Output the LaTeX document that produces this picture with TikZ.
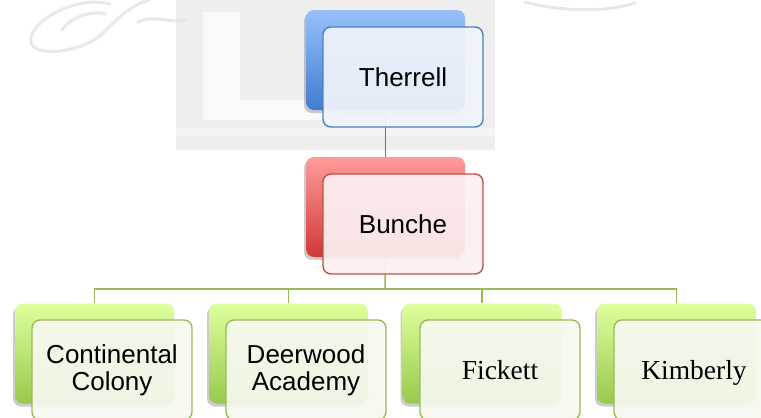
\documentclass[tikz,border=0pt]{standalone}
\usepackage{fontspec}
\setmainfont{Liberation Sans}
\newfontfamily\serifface{Liberation Serif}
\usetikzlibrary{shadows}
\definecolor{bluebd}{HTML}{4F81BD}
\definecolor{bluetop}{HTML}{98C0FA}
\definecolor{bluebot}{HTML}{3F7CD2}
\definecolor{bluetint}{HTML}{F0F4FB}
\definecolor{redbd}{HTML}{C0504D}
\definecolor{redtop}{HTML}{FF9C9A}
\definecolor{redbot}{HTML}{D03838}
\definecolor{redtint}{HTML}{FCF1F1}
\definecolor{greenbd}{HTML}{9BBB59}
\definecolor{greentop}{HTML}{DEFF9E}
\definecolor{greenbot}{HTML}{98C94C}
\definecolor{greentint}{HTML}{F6F9EF}
\tikzset{
  backbox/.style={minimum width=159pt, minimum height=100pt, rounded corners=8pt, inner sep=0pt,
    drop shadow={shadow xshift=-2pt, shadow yshift=-3pt, opacity=.2, fill=black}},
  frontbox/.style={minimum width=160pt, minimum height=100pt, rounded corners=8pt, inner sep=0pt,
    line width=1.4pt, fill opacity=.93, text opacity=1, align=center,
    font=\fontsize{26}{26.7}\selectfont},
  serifbox/.style={frontbox, font=\serifface\fontsize{27.5}{28}\selectfont,
    text height=24pt, text depth=6pt},
  blueback/.style={backbox, top color=bluetop, bottom color=bluebot},
  redback/.style={backbox, top color=redtop, bottom color=redbot},
  greenback/.style={backbox, top color=greentop, bottom color=greenbot},
  bluefront/.style={frontbox, draw=bluebd, fill=bluetint},
  redfront/.style={frontbox, draw=redbd, fill=redtint},
  greenfront/.style={frontbox, draw=greenbd, fill=greentint},
  greenserif/.style={serifbox, draw=greenbd, fill=greentint},
  wire/.style={line width=1.5pt},
  wmark/.style={draw=gray!25, line width=3pt, line cap=round, opacity=.7}
}
\begin{document}
\begin{tikzpicture}[x=1pt, y=-1pt]
\useasboundingbox (0,0) rectangle (761,418);
\fill[white] (0,0) rectangle (761,418);
% faint watermark
\fill[gray!13] (176,0) rectangle (495,150);
\fill[gray!5] (203,12) rectangle (240,120);
\fill[gray!5] (203,100) rectangle (340,120);
\fill[gray!9] (176,128) rectangle (495,136);
\draw[wmark] (110,4) .. controls (70,-6) and (22,28) .. (32,45) .. controls (42,58) and (85,50) .. (102,34) .. controls (118,18) and (132,4) .. (150,0);
\draw[wmark] (62,30) .. controls (70,18) and (90,10) .. (105,14);
\draw[wmark] (138,22) .. controls (155,14) and (170,24) .. (185,20);
\draw[wmark] (525,2) .. controls (555,10) and (600,14) .. (635,3);
% coordinates
\coordinate (bus) at (385,289);
% nodes (back)
\node[blueback] (tb) at (385.5,60) {};
\node[redback] (bb) at (385.5,207) {};
\node[greenback] (c1b) at (94.5,353.5) {};
\node[greenback] (c2b) at (288.5,353.5) {};
\node[greenback] (c3b) at (482,353.5) {};
\node[greenback] (c4b) at (676.5,353.5) {};
% connectors
\draw[wire, redbd] (tb.south) -- (bb.north);
\draw[wire, greenbd] (bb.south) -- (bus);
\draw[wire, greenbd] (bus) -| (c1b.north);
\draw[wire, greenbd] (bus) -| (c2b.north);
\draw[wire, greenbd] (bus) -| (c3b.north);
\draw[wire, greenbd] (bus) -| (c4b.north);
% front boxes
\node[bluefront] (tf) at (403,77) {Therrell};
\node[redfront] (bf) at (403,224) {Bunche};
\node[greenfront] (c1f) at (112,370) {Continental\\Colony};
\node[greenfront] (c2f) at (306,370) {Deerwood\\Academy};
\node[greenserif] (c3f) at (500,370) {Fickett};
\node[greenserif] (c4f) at (694,370) {Kimberly};
\end{tikzpicture}
\end{document}
